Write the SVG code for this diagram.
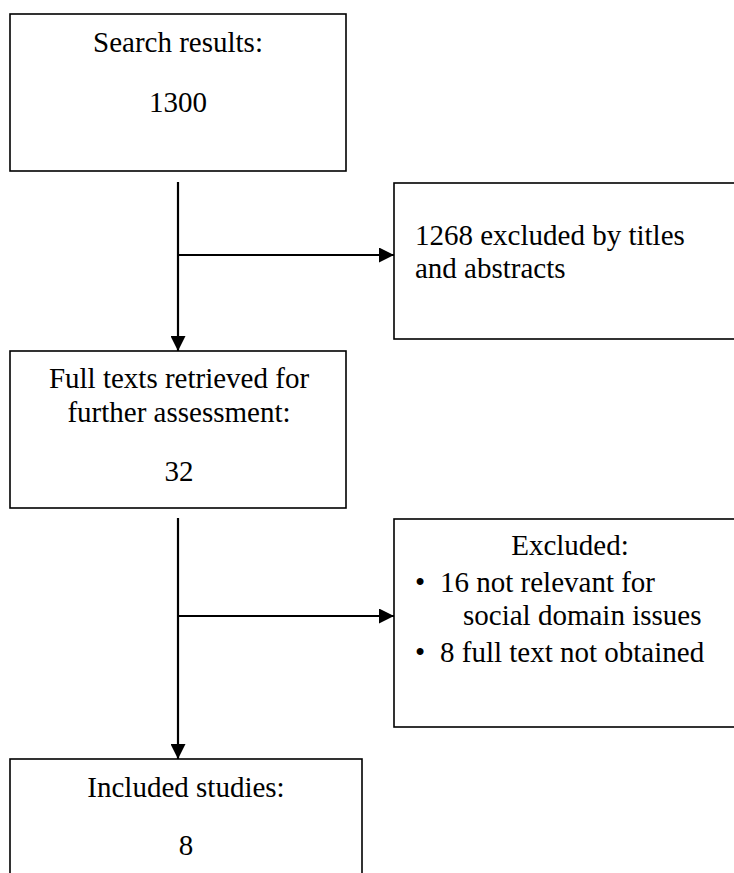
<svg xmlns="http://www.w3.org/2000/svg" width="734" height="873" viewBox="0 0 734 873">
<style>
.box{fill:#fff;stroke:#000;stroke-width:1.6}
.t{font-family:"Liberation Serif","Times New Roman",serif;font-size:29px;fill:#000}
.c{text-anchor:middle}
.conn{stroke:#000;stroke-width:2.2;fill:none}
</style>
<defs>
<marker id="ah" viewBox="0 0 15 15" refX="15" refY="7.5" markerWidth="15" markerHeight="15" markerUnits="userSpaceOnUse" orient="auto">
<path d="M0,0 L15,7.5 L0,15 z" fill="#000"/>
</marker>
</defs>
<rect width="734" height="873" fill="#fff"/>
<g id="n1">
<rect class="box" x="10" y="14" width="336" height="157"/>
<text class="t c" x="178" y="52">Search results:</text>
<text class="t c" x="178" y="112">1300</text>
</g>
<g id="n2">
<rect class="box" x="394" y="183" width="360" height="156"/>
<text class="t" x="415" y="245">1268 excluded by titles</text>
<text class="t" x="415" y="278">and abstracts</text>
</g>
<g id="n3">
<rect class="box" x="10" y="351" width="336" height="157"/>
<text class="t c" x="179" y="388">Full texts retrieved for</text>
<text class="t c" x="179" y="422">further assessment:</text>
<text class="t c" x="179" y="481">32</text>
</g>
<g id="n4">
<rect class="box" x="394" y="519" width="360" height="208"/>
<text class="t c" x="570" y="555">Excluded:</text>
<text class="t" x="415" y="592">•</text>
<text class="t" x="440" y="592">16 not relevant for</text>
<text class="t" x="463" y="625">social domain issues</text>
<text class="t" x="415" y="662">•</text>
<text class="t" x="440" y="662">8 full text not obtained</text>
</g>
<g id="n5">
<rect class="box" x="10" y="759" width="352" height="140"/>
<text class="t c" x="186" y="797">Included studies:</text>
<text class="t c" x="186" y="855">8</text>
</g>
<g id="connectors">
<line class="conn" x1="178" y1="182" x2="178" y2="351" marker-end="url(#ah)"/>
<line class="conn" x1="178" y1="255" x2="394" y2="255" marker-end="url(#ah)"/>
<line class="conn" x1="178" y1="518" x2="178" y2="759" marker-end="url(#ah)"/>
<line class="conn" x1="178" y1="616" x2="394" y2="616" marker-end="url(#ah)"/>
</g>
</svg>
